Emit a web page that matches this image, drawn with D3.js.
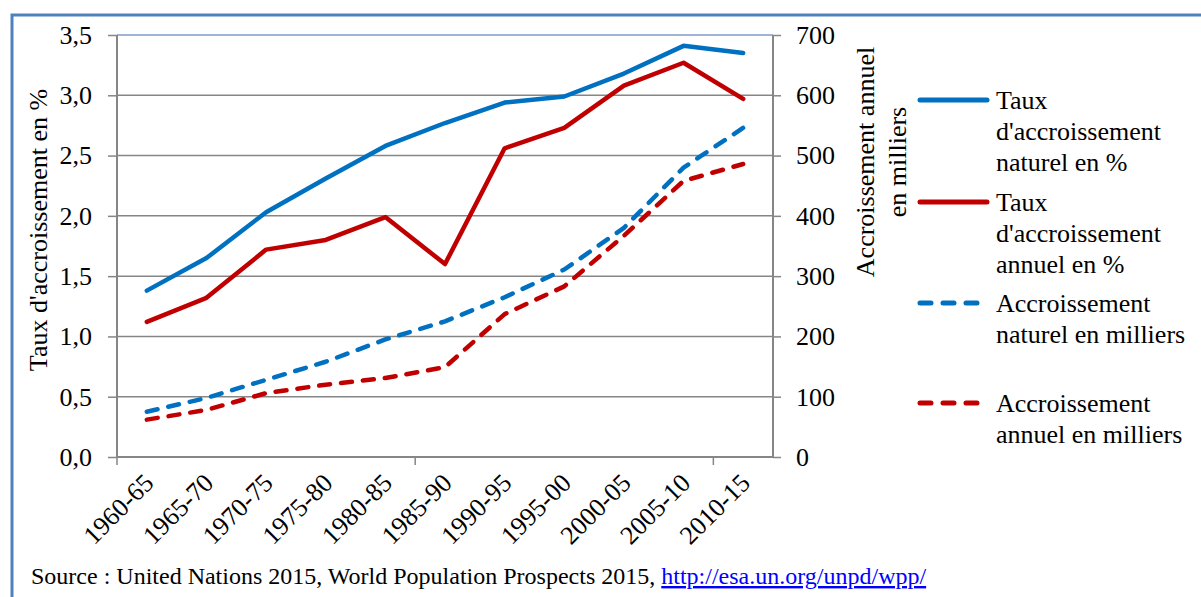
<!DOCTYPE html>
<html><head><meta charset="utf-8">
<script src="https://cdn.jsdelivr.net/npm/d3@7/dist/d3.min.js"></script>
<style>
html,body{margin:0;padding:0;background:#fff;}
svg{display:block;}
</style></head><body>
<svg id="chart" width="1201" height="597"></svg>
<script>
const categories = ["1960-65","1965-70","1970-75","1975-80","1980-85","1985-90","1990-95","1995-00","2000-05","2005-10","2010-15"];
const tauxNaturel = [1.38,1.65,2.03,2.31,2.58,2.77,2.94,2.99,3.18,3.41,3.35];
const tauxAnnuel = [1.12,1.32,1.72,1.80,1.99,1.60,2.56,2.73,3.08,3.27,2.97];
const accNaturel = [75,98,128,158,195,225,265,311,380,480,546];
const accAnnuel = [62,78,106,120,131,149,237,283,367,458,486];
const leftTicks = [0,0.5,1,1.5,2,2.5,3,3.5];
const rightTicks = [0,100,200,300,400,500,600,700];
const leftTitle = "Taux d'accroissement en %";
const rightTitle = ["Accroissement annuel","en milliers"];
const legendItems = [
  {lines:["Taux","d'accroissement","naturel en %"], color:"#0070c0", dashed:false},
  {lines:["Taux","d'accroissement","annuel en %"], color:"#c00000", dashed:false},
  {lines:["Accroissement","naturel en milliers"], color:"#0070c0", dashed:true},
  {lines:["Accroissement","annuel en milliers"], color:"#c00000", dashed:true}
];
const sourceText = "Source : United Nations 2015, World Population Prospects 2015, ";
const sourceLink = "http://esa.un.org/unpd/wpp/";

const FONT = "'Liberation Serif', Tinos, 'Times New Roman', Times, 'DejaVu Serif', 'Noto Serif', serif";
const svg = d3.select("#chart").style("font-family", FONT);
const L = 117, R = 773, T = 35, B = 457;
const grid = "#868686";

// outer frame
svg.append("rect").attr("x",12).attr("y",15).attr("width",1400).attr("height",800)
  .attr("fill","none").attr("stroke","#4f81bd").attr("stroke-width",3);

const x = d3.scaleBand().domain(categories).range([L,R]);
const cx = c => x(c) + x.bandwidth()/2;
const yL = d3.scaleLinear().domain([0,3.5]).range([B,T]);
const yR = d3.scaleLinear().domain([0,700]).range([B,T]);

// gridlines
svg.append("g").selectAll("line").data(leftTicks.filter(d=>d>0 && d<3.5)).join("line")
  .attr("x1",L).attr("x2",R).attr("y1",d=>yL(d)).attr("y2",d=>yL(d))
  .attr("stroke",grid).attr("stroke-width",1.5);
// plot top border
svg.append("line").attr("x1",L).attr("x2",R).attr("y1",T).attr("y2",T)
  .attr("stroke","#7f9bc8").attr("stroke-width",1.5);

// left axis
const gl = svg.append("g").attr("transform",`translate(${L},0)`)
  .call(d3.axisLeft(yL).tickValues(leftTicks).tickSize(9).tickPadding(16)
    .tickFormat(d=>d3.format(".1f")(d).replace(".",",")));
// right axis
const gr = svg.append("g").attr("transform",`translate(${R},0)`)
  .call(d3.axisRight(yR).tickValues(rightTicks).tickSize(8).tickPadding(15));
// bottom axis
const tickCats = [categories[0],categories[5],categories[10]];
const gb = svg.append("g").attr("transform",`translate(0,${B})`)
  .call(d3.axisBottom(x).tickValues(tickCats).tickSize(8).tickFormat(""));
gb.selectAll(".tick").attr("transform",d=>`translate(${x(d)},0)`);

[gl,gr,gb].forEach(g=>{
  g.attr("font-family",null).attr("font-size",null);
  g.select(".domain").attr("stroke",grid).attr("stroke-width",2);
  g.selectAll(".tick line").attr("stroke",grid).attr("stroke-width",1.5);
  g.selectAll("text").style("font-family",FONT).attr("font-size",26).attr("fill","#000");
});
gl.select(".domain").attr("d",`M0,${B}V${T}`);
gr.select(".domain").attr("d",`M0,${B}V${T}`);
gb.select(".domain").attr("d",`M${L},0H${R}`);

// x labels
svg.append("g").selectAll("text").data(categories).join("text")
  .attr("transform",d=>`translate(${cx(d)+2},${B+21}) rotate(-45)`)
  .attr("text-anchor","end").attr("dy","0.35em")
  .attr("font-size",26).text(d=>d);

// axis titles
svg.append("text").attr("transform",`translate(47,${(T+B)/2-16}) rotate(-90)`)
  .attr("text-anchor","middle").attr("font-size",26).text(leftTitle);
svg.append("g").selectAll("text").data(rightTitle).join("text")
  .attr("transform",(d,i)=>`translate(${874+i*32},162) rotate(-90)`)
  .attr("text-anchor","middle").attr("font-size",26).text(d=>d);

// lines
const series = [
  {v:tauxNaturel, y:yL, color:"#0070c0", dashed:false},
  {v:tauxAnnuel, y:yL, color:"#c00000", dashed:false},
  {v:accNaturel, y:yR, color:"#0070c0", dashed:true},
  {v:accAnnuel, y:yR, color:"#c00000", dashed:true}
];
series.slice().reverse().forEach(s=>{
  const line = d3.line().x((d,i)=>cx(categories[i])).y(d=>s.y(d));
  svg.append("path").attr("d",line(s.v)).attr("fill","none")
    .attr("stroke",s.color).attr("stroke-width",4.5)
    .attr("stroke-linejoin","round").attr("stroke-linecap","round")
    .attr("stroke-dasharray",s.dashed?"11,11":null);
});

// legend
const legY = [100,202,303,403];
const lg = svg.append("g");
legendItems.forEach((it,i)=>{
  lg.append("line").attr("x1",920).attr("x2",987).attr("y1",legY[i]).attr("y2",legY[i])
    .attr("stroke",it.color).attr("stroke-width",5).attr("stroke-linecap","round")
    .attr("stroke-dasharray",it.dashed?"11,12":null);
  const t = lg.append("text").attr("x",996).attr("y",legY[i]+9).attr("font-size",26);
  it.lines.forEach((ln,j)=>t.append("tspan").attr("x",996).attr("dy",j?31:0).text(ln));
});

// source
const st = svg.append("text").attr("x",31).attr("y",584).attr("font-size",24);
st.append("tspan").text(sourceText);
st.append("tspan").attr("fill","#0000ff").attr("text-decoration","underline").text(sourceLink);
</script>
</body></html>
